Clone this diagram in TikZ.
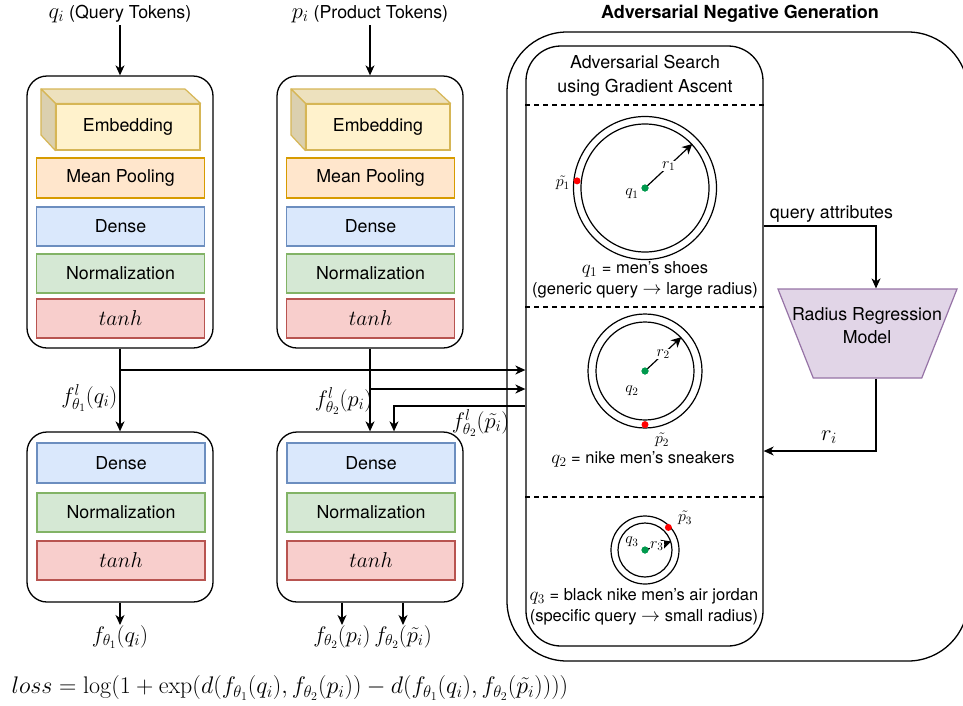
\documentclass[tikz,border=0pt]{standalone}
\usepackage{fix-cm}
\usepackage[no-math]{fontspec}
\setmainfont{TeX Gyre Heros}
\usepackage{amsmath}
\usetikzlibrary{arrows.meta,shapes.geometric,calc}

\definecolor{embFill}{HTML}{FFF2CC}
\definecolor{embLine}{HTML}{D6B656}
\definecolor{poolFill}{HTML}{FFE6CC}
\definecolor{poolLine}{HTML}{D79B00}
\definecolor{denseFill}{HTML}{DAE8FC}
\definecolor{denseLine}{HTML}{6C8EBF}
\definecolor{normFill}{HTML}{D5E8D4}
\definecolor{normLine}{HTML}{82B366}
\definecolor{actFill}{HTML}{F8CECC}
\definecolor{actLine}{HTML}{B85450}
\definecolor{rrmFill}{HTML}{E1D5E7}
\definecolor{rrmLine}{HTML}{9673A6}
\definecolor{qGreen}{HTML}{00994D}
\definecolor{pRed}{HTML}{FF0000}

% math set a little larger than the surrounding sans text
\newcommand{\mthbig}[1]{{\fontsize{22.5}{27}\selectfont$#1$}}
\newcommand{\mthcap}[1]{{\fontsize{19}{22}\selectfont$#1$}}

\tikzset{
  towerframe/.style={draw=black, line width=1.3pt, rounded corners=20pt, inner sep=0pt},
  layerbox/.style={draw, line width=1.2pt, minimum width=168pt, minimum height=39pt, inner sep=0pt, text=black},
  embface/.style={layerbox, fill=embFill, draw=embLine, minimum width=144pt, minimum height=46pt},
  poolbox/.style={layerbox, fill=poolFill, draw=poolLine, minimum height=40pt},
  densebox/.style={layerbox, fill=denseFill, draw=denseLine},
  normbox/.style={layerbox, fill=normFill, draw=normLine},
  actbox/.style={layerbox, fill=actFill, draw=actLine, font=\fontsize{21.5}{25}\selectfont},
  flow/.style={-{Stealth[length=10pt,width=9pt,inset=3pt]}, line width=1.2pt},
  radarrow/.style={-{Stealth[length=10pt,width=10pt,inset=3pt]}, line width=1.2pt},
  smallmath/.style={font=\fontsize{16}{18}\selectfont, inner sep=0.5pt},
  outtag/.style={anchor=north, inner sep=0pt, text height=17pt, text depth=6pt},
  ringnode/.style={circle, draw, line width=1.2pt, inner sep=0pt},
  qdot/.style={circle, fill=qGreen, minimum size=7pt, inner sep=0pt},
  pdot/.style={circle, fill=pRed, minimum size=7pt, inner sep=0pt},
  captext/.style={align=center, font=\fontsize{16.5}{21.5}\selectfont, inner sep=0pt},
  sepline/.style={dashed, dash pattern=on 5pt off 4pt, line width=1.2pt},
}

\begin{document}
\begin{tikzpicture}[x=1pt, y=-1pt, font=\fontsize{17.8}{21}\selectfont, line width=1.2pt]
\useasboundingbox (0,0) rectangle (963,705);

% ---------- two encoder towers ----------
\foreach \t/\dx/\cx in {q/0/120, p/250/370}{
  % first stage
  \node[towerframe, minimum width=186pt, minimum height=272pt] (\t-top) at (\cx,212) {};
  \node[embface] (\t-emb) at ({128+\dx},127) {Embedding};
  \filldraw[fill=embFill!93!black, draw=embLine, line width=1.2pt, line join=round]
    ({41+\dx},89) -- ({185+\dx},89) -- (\t-emb.north east) -- (\t-emb.north west) -- cycle;
  \filldraw[fill=embFill!86!black, draw=embLine, line width=1.2pt, line join=round]
    ({41+\dx},89) -- (\t-emb.north west) -- (\t-emb.south west) -- ({41+\dx},135) -- cycle;
  \node[poolbox]  (\t-pool)  at ({120.5+\dx},178)   {Mean Pooling};
  \node[densebox] (\t-dense) at ({120.5+\dx},226.5) {Dense};
  \node[normbox]  (\t-norm)  at ({120.5+\dx},273.5) {Normalization};
  \node[actbox]   (\t-act)   at ({120.5+\dx},318.5) {$tanh$};
  % second stage
  \node[towerframe, minimum width=186pt, minimum height=170pt] (\t-bot) at (\cx,517) {};
  \node[densebox, minimum height=40pt] (\t-dense2) at ({121+\dx},463) {Dense};
  \node[normbox]  (\t-norm2) at ({121+\dx},512.5) {Normalization};
  \node[actbox]   (\t-act2)  at ({121+\dx},560.5) {$tanh$};
}

% inputs
\node[inner sep=2pt] (qin) at (120,14) {\mthbig{q_i} (Query Tokens)};
\node[inner sep=2pt] (pin) at (370,14) {\mthbig{p_i} (Product Tokens)};
\draw[flow] (qin.south) -- (q-top.north);
\draw[flow] (pin.south) -- (p-top.north);

% ---------- adversarial negative generation ----------
\node[font=\fontsize{18}{21}\selectfont\bfseries] (advtitle) at (740,14) {Adversarial Negative Generation};
\node[draw, line width=1.3pt, rounded corners=60pt, minimum width=461pt, minimum height=629pt, inner sep=0pt] (advouter) at (737.5,346.5) {};
\node[draw, line width=1.3pt, rounded corners=35pt, minimum width=237pt, minimum height=600pt, inner sep=0pt] (adv) at (644.5,346) {};
\node[align=center, font=\fontsize{17.8}{24}\selectfont] (advsearch) at (645,76) {Adversarial Search\\using Gradient Ascent};

\coordinate (d1) at (0,105);
\coordinate (d2) at (0,307);
\coordinate (d3) at (0,497);
\draw[sepline] (adv.west |- d1) -- (adv.east |- d1);
\draw[sepline] (adv.west |- d2) -- (adv.east |- d2);
\draw[sepline] (adv.west |- d3) -- (adv.east |- d3);

% generic query: large radius
\node[ringnode, minimum size=143pt] (c1o) at (645,188) {};
\node[ringnode, minimum size=128pt] (c1i) at (645,188) {};
\node[qdot] (q1) at (645,188) {};
\draw[radarrow] (q1.center) -- node[smallmath, fill=white, pos=0.5] (r1lbl) {$r_1$} (c1i.43);
\node[qdot] at (645,188) {};
\node[pdot] (pt1) at ($(c1o.174)!0.5!(c1i.174)$) {};
\node[smallmath, anchor=east] (pt1lbl) at ($(pt1.west)+(-2,2)$) {$\tilde{p_1}$};
\node[smallmath] (q1lbl) at (632,194) {$q_1$};
\node[captext] (cap1) at (645,280) {\mthcap{q_1} = men's shoes\\(generic query \mthcap{\rightarrow} large radius)};

% nike sneakers
\node[ringnode, minimum size=114pt] (c2o) at (645,371) {};
\node[ringnode, minimum size=98pt] (c2i) at (645,371) {};
\node[qdot] (q2) at (645,371) {};
\draw[radarrow] (q2.center) -- node[smallmath, fill=white, pos=0.5] (r2lbl) {$r_2$} (c2i.43);
\node[qdot] at (645,371) {};
\node[pdot] (pt2) at ($(c2o.south)!0.5!(c2i.south)$) {};
\node[smallmath] (pt2lbl) at (662,440) {$\tilde{p_2}$};
\node[smallmath] (q2lbl) at (632,391) {$q_2$};
\node[captext] (cap2) at (643,459) {\mthcap{q_2} = nike men's sneakers};

% specific query: small radius
\node[ringnode, minimum size=68pt] (c3o) at (645,550) {};
\node[ringnode, minimum size=54pt] (c3i) at (645,550) {};
\node[qdot] (q3) at (645,550) {};
\draw[radarrow] (q3.center) -- node[smallmath, fill=white, pos=0.45] (r3lbl) {$r_3$} (c3i.18);
\node[qdot] at (645,550) {};
\node[pdot] (pt3) at ($(c3o.44)!0.3!(c3i.44)$) {};
\node[smallmath] (pt3lbl) at (685,518) {$\tilde{p_3}$};
\node[smallmath] (q3lbl) at (632,542) {$q_3$};
\node[captext] (cap3) at (644,607) {\mthcap{q_3} = black nike men's air jordan\\(specific query \mthcap{\rightarrow} small radius)};

% radius regression model
\node[trapezium, trapezium stretches=true, shape border rotate=180, trapezium angle=72,
      minimum width=179pt, minimum height=89pt, fill=rrmFill, draw=rrmLine, line width=1.2pt, inner sep=2pt] (rrm) at (867.5,333.5) {};
\node[align=center, font=\fontsize{17.8}{23}\selectfont] (rrmtext) at (867,326) {Radius Regression\\Model};

\coordinate (qa) at (876,226);
\draw[flow] (qa -| adv.east) -| (rrm.north -| qa);
\node[anchor=west] (qalbl) at (766,214) {query attributes};

\coordinate (ri) at (876,451);
\draw[flow] (rrm.south -| ri) |- (ri -| adv.east);
\node (rilbl) at (829,437) {\mthbig{r_i}};

% ---------- hidden representations into the adversarial search ----------
\draw[flow] (q-top.south) -- (q-bot.north);
\draw[flow] (p-top.south) -- (p-bot.north);
\node[anchor=east, inner sep=0pt] (fq) at (118,398) {\mthbig{f^{l}_{\theta_1}(q_i)}};
\node[anchor=east, inner sep=0pt] (fp) at (373,401) {\mthbig{f^{l}_{\theta_2}(p_i)}};
\node[anchor=east, inner sep=0pt] (fn) at (510,423) {\mthbig{f^{l}_{\theta_2}(\tilde{p_i})}};

\coordinate (qtap) at (120,370);
\coordinate (ptap) at (370,389);
\coordinate (ntap) at (394,406);
\draw[flow] (qtap) -- (qtap -| adv.west);
\draw[flow] (ptap) -- (ptap -| adv.west);
\draw[flow] (ntap -| adv.west) -| (p-bot.north -| ntap);

% ---------- outputs ----------
\node[outtag] (oq) at (120,625) {\mthbig{f_{\theta_1}(q_i)}};
\node[outtag] (op) at (342,625) {\mthbig{f_{\theta_2}(p_i)}};
\node[outtag] (on) at (403,625) {\mthbig{f_{\theta_2}(\tilde{p_i})}};
\draw[flow] (q-bot.south) -- (oq.north);
\draw[flow] (p-bot.south -| op) -- (op.north);
\draw[flow] (p-bot.south -| on) -- (on.north);

\node[anchor=west, inner sep=0pt, font=\fontsize{24}{28}\selectfont] (loss) at (11,688)
  {$loss = \log(1+\exp(d(f_{\theta_1}(q_i), f_{\theta_2}(p_i)) - d(f_{\theta_1}(q_i), f_{\theta_2}(\tilde{p_i}))))$};
\end{tikzpicture}
\end{document}
